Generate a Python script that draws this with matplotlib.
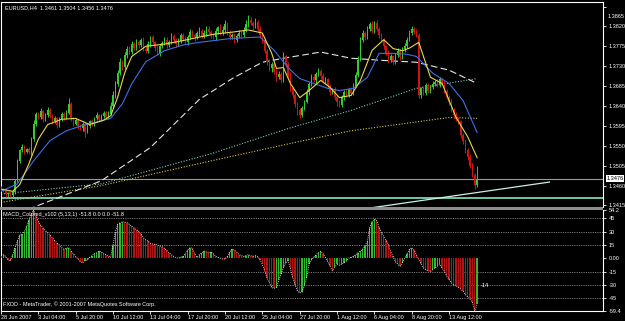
import matplotlib
matplotlib.use("Agg")
import matplotlib.pyplot as plt
from matplotlib.patches import Rectangle
import numpy as np

plt.rcParams['font.family'] = ['Liberation Sans Narrow', 'Liberation Sans', 'DejaVu Sans']

# closes per H4 bar (28 Jun 2007 -> 15 Aug 2007)
closes = [
    1.3452, 1.3448, 1.3440, 1.3444, 1.3438, 1.3446, 1.3470, 1.3515, 1.3540, 1.3548,
    1.3537, 1.3542, 1.3535, 1.3565, 1.3600, 1.3622, 1.3615, 1.3628, 1.3610, 1.3620,
    1.3632, 1.3618, 1.3605, 1.3612, 1.3598, 1.3610, 1.3622, 1.3615, 1.3625, 1.3645,
    1.3612, 1.3600, 1.3608, 1.3595, 1.3590, 1.3600, 1.3582, 1.3595, 1.3605, 1.3600,
    1.3612, 1.3620, 1.3610, 1.3618, 1.3625, 1.3615, 1.3622, 1.3640, 1.3665, 1.3690,
    1.3715, 1.3740, 1.3728, 1.3755, 1.3770, 1.3762, 1.3780, 1.3772, 1.3785, 1.3778,
    1.3790, 1.3770, 1.3765, 1.3780, 1.3795, 1.3785, 1.3772, 1.3760, 1.3775, 1.3782,
    1.3790, 1.3778, 1.3785, 1.3798, 1.3790, 1.3780, 1.3788, 1.3800, 1.3792, 1.3785,
    1.3795, 1.3808, 1.3800, 1.3795, 1.3805, 1.3810, 1.3798, 1.3805, 1.3815, 1.3808,
    1.3800, 1.3795, 1.3810, 1.3818, 1.3805, 1.3812, 1.3825, 1.3808, 1.3795, 1.3800,
    1.3790, 1.3798, 1.3805, 1.3800, 1.3812, 1.3825, 1.3835, 1.3828, 1.3820, 1.3830,
    1.3815, 1.3800, 1.3790, 1.3765, 1.3740, 1.3725, 1.3735, 1.3718, 1.3705, 1.3712,
    1.3698, 1.3752, 1.3735, 1.3710, 1.3680, 1.3665, 1.3645, 1.3630, 1.3620, 1.3635,
    1.3650, 1.3672, 1.3690, 1.3705, 1.3698, 1.3712, 1.3720, 1.3708, 1.3695, 1.3700,
    1.3685, 1.3672, 1.3678, 1.3660, 1.3648, 1.3642, 1.3660, 1.3672, 1.3665, 1.3678,
    1.3670, 1.3685, 1.3710, 1.3745, 1.3790, 1.3805, 1.3795, 1.3815, 1.3825, 1.3810,
    1.3828, 1.3815, 1.3800, 1.3790, 1.3775, 1.3760, 1.3745, 1.3752, 1.3740, 1.3755,
    1.3765, 1.3750, 1.3768, 1.3775, 1.3790, 1.3805, 1.3815, 1.3808, 1.3800, 1.3665,
    1.3680, 1.3670, 1.3688, 1.3675, 1.3682, 1.3690, 1.3695, 1.3688, 1.3700, 1.3692,
    1.3675, 1.3660, 1.3650, 1.3632, 1.3620, 1.3610, 1.3605, 1.3575, 1.3560, 1.3540,
    1.3525, 1.3505, 1.3485, 1.3461, 1.3476,
]
first_open = 1.3455

# wick lengths in pips above / below the body
up_wick = [
    3, 2, 4, 2, 3, 5, 4, 6, 3, 5, 4, 3, 5, 6, 8, 4, 5, 7, 3, 4,
    6, 4, 3, 5, 4, 6, 5, 4, 7, 12, 5, 4, 6, 3, 5, 4, 3, 6, 4, 5,
    4, 6, 3, 5, 4, 3, 6, 8, 10, 7, 6, 8, 5, 7, 6, 5, 8, 4, 6, 5,
    4, 7, 5, 6, 4, 5, 3, 6, 5, 4, 6, 5, 4, 7, 5, 3, 6, 4, 5, 6,
    5, 7, 4, 6, 5, 8, 4, 6, 5, 7, 4, 5, 6, 4, 7, 8, 10, 5, 4, 6,
    5, 4, 6, 5, 7, 9, 10, 6, 5, 8, 4, 5, 6, 4, 5, 7, 4, 6, 5, 8,
    6, 10, 4, 5, 6, 4, 5, 3, 6, 5, 4, 6, 5, 7, 8, 6, 5, 4, 6, 5,
    4, 5, 3, 6, 4, 5, 6, 4, 5, 3, 5, 6, 8, 7, 6, 8, 5, 7, 6, 8,
    5, 6, 4, 5, 3, 4, 6, 5, 4, 5, 6, 4, 5, 7, 6, 8, 5, 4, 6, 5,
    4, 6, 5, 4, 5, 6, 4, 5, 6, 4, 5, 4, 6, 5, 4, 6, 5, 4, 3, 5,
    4, 6, 5, 3, 28,
]
dn_wick = [
    4, 3, 5, 6, 4, 3, 5, 2, 4, 3, 5, 4, 3, 5, 4, 6, 4, 5, 6, 3,
    4, 5, 6, 4, 7, 5, 4, 6, 5, 4, 6, 5, 4, 7, 5, 6, 12, 4, 5, 6,
    5, 4, 6, 3, 5, 4, 5, 3, 4, 6, 5, 4, 7, 5, 6, 4, 5, 6, 5, 7,
    5, 6, 4, 5, 6, 4, 7, 5, 6, 4, 5, 6, 4, 5, 7, 6, 4, 5, 6, 4,
    6, 4, 5, 7, 4, 6, 5, 4, 7, 5, 6, 4, 5, 7, 4, 5, 6, 8, 5, 4,
    7, 5, 4, 6, 5, 4, 6, 5, 7, 4, 6, 5, 7, 6, 8, 5, 7, 6, 8, 5,
    6, 4, 7, 5, 6, 7, 8, 10, 6, 4, 5, 4, 6, 5, 4, 6, 5, 7, 4, 6,
    5, 7, 4, 6, 8, 5, 4, 6, 5, 4, 5, 4, 3, 5, 4, 6, 5, 4, 6, 5,
    6, 5, 7, 4, 6, 5, 8, 6, 5, 4, 5, 6, 4, 5, 4, 3, 5, 6, 4, 7,
    6, 5, 4, 6, 5, 4, 5, 6, 4, 5, 6, 5, 7, 5, 6, 4, 6, 7, 5, 6,
    7, 6, 5, 8, 5,
]

# moving averages, read at selected bars
ma_fast_x = [0, 5, 8, 12, 16, 20, 26, 32, 38, 44, 47, 50, 53, 56, 62, 70, 78, 85, 92, 99,
             106, 112, 116, 118, 121, 124, 128, 132, 137, 141, 145, 150, 154, 159, 164,
             168, 172, 175, 179, 184, 189, 195, 200, 204]
ma_fast_y = [1.3452, 1.3447, 1.3462, 1.3510, 1.3565, 1.3598, 1.3610, 1.3612, 1.3598, 1.3608,
             1.3618, 1.3660, 1.3715, 1.3752, 1.3775, 1.3780, 1.3788, 1.3796, 1.3803, 1.3807,
             1.3812, 1.3805, 1.3759, 1.3725, 1.3727, 1.3691, 1.3659, 1.3675, 1.3698, 1.3682,
             1.3659, 1.3664, 1.3698, 1.3766, 1.3790, 1.3770, 1.3765, 1.3771, 1.3784, 1.3705,
             1.3691, 1.3614, 1.3570, 1.3523]
ma_slow_x = [0, 7, 14, 21, 28, 35, 47, 52, 56, 62, 70, 78, 85, 99, 111, 117, 123, 128, 134,
             140, 145, 151, 157, 162, 168, 174, 178, 185, 192, 198, 204]
ma_slow_y = [1.3447, 1.3464, 1.3516, 1.3562, 1.3584, 1.3596, 1.3612, 1.3645, 1.3690, 1.3740,
             1.3765, 1.3778, 1.3784, 1.3793, 1.3796, 1.3766, 1.3727, 1.3702, 1.3691, 1.3680,
             1.3675, 1.3680, 1.3705, 1.3759, 1.3759, 1.3757, 1.3752, 1.3714, 1.3691, 1.3652,
             1.3580]
ma_100_x = [8, 13, 43, 64, 85, 100, 112, 121, 137, 150, 164, 178, 192, 204]
ma_100_y = [1.3395, 1.3409, 1.3471, 1.3546, 1.3655, 1.3705, 1.3739, 1.3748, 1.3762, 1.3748,
            1.3743, 1.3739, 1.3721, 1.3691]
ma_200_x = [0, 43, 90, 123, 150, 178, 204]
ma_200_y = [1.3441, 1.3464, 1.3532, 1.3589, 1.3630, 1.3680, 1.3702]
ma_300_x = [0, 43, 85, 128, 150, 192, 204]
ma_300_y = [1.3422, 1.3460, 1.3510, 1.3560, 1.3584, 1.3614, 1.3612]

trend_x = [155, 235]
trend_y = [1.3407, 1.3468]
level_line = 1.3433
bid = 1.3476

macd = [
    3, 4, 2, -2, -3, 4, 12, 19, 26, 27, 30, 36, 43, 50, 54.2, 48, 41, 37, 34, 31,
    29, 26, 23, 20, 17, 15, 12, 10, 11, 12, 8, 5, 2, -1, -4, -5, -3, -2, 1, 3,
    5, 6, 8, 7, 5, 4, 3, 1, 15, 30, 38, 40, 41, 40.5, 40, 38, 36, 34, 32, 30,
    27, 23, 21, 19, 17, 16, 15.5, 15, 14, 13, 11, 9, 6, 4, 2, 0.5, 0, 1, 2, 5,
    9, 12, 11, 5, 1, 4, 6, 8, 7, 6, 7, 5, 2, 1, 0, -1, -1, 2, 7, 10,
    9, 7, 4, 3, 2, 3, 4, 3, 2, 3, 2, -2, -7, -14, -22, -28, -33, -34, -33, -25,
    -18, -11, -5, -3, -12, -22, -30, -37, -39, -38, -30, -22, -7, -2, 1, 4, 6, 8, 5, 1,
    -4, -9, -14, -10, -7, -8, -7, -5, -3, 0, 1, 2, 4, 6, 8, 10, 14, 19, 34, 41,
    44, 42, 35, 29, 24, 20, 15, 7, 2, -4, -7, -9, -5, 0, 5, 10, 12, 9, 4, -1,
    -6, -11, -13, -14, -15, -13, -11, -9, -7, -11, -15, -20, -24, -28, -30, -31, -33, -35, -37, -41,
    -44, -46, -50, -59.4, -51.8,
]

tick_bars = [0, 16, 32, 48, 64, 80, 96, 112, 128, 144, 160, 176, 192]
tick_labels = ["28 Jun 2007", "3 Jul 04:00", "5 Jul 20:00", "10 Jul 12:00", "13 Jul 04:00",
               "17 Jul 20:00", "20 Jul 12:00", "25 Jul 04:00", "27 Jul 20:00", "1 Aug 12:00",
               "6 Aug 04:00", "8 Aug 20:00", "13 Aug 12:00"]
price_ticks = [1.3415, 1.3460, 1.3505, 1.3550, 1.3595, 1.3640, 1.3685, 1.3730, 1.3775, 1.3820, 1.3865]
macd_ticks = [-59.4, -45, -30, -15, 0, 15, 30, 45, 54.2]
macd_tick_labels = ["-59.4", "-45", "-30", "-15", "0.00", "15", "30", "45", "54.2"]

W, H = 625, 321
FS = 4.0


def box(l, t, r, b):
    return [l / W, 1 - b / H, (r - l) / W, (b - t) / H]


fig = plt.figure(figsize=(W / 100, H / 100), dpi=100, facecolor='black')
ax = fig.add_axes(box(1, 2, 603, 207))
ax2 = fig.add_axes(box(1, 210, 603, 311), sharex=ax)

n = len(closes)
idx = np.arange(n)
c = np.array(closes)
o = np.concatenate([[first_open], c[:-1]])
hi = np.maximum(o, c) + np.array(up_wick) * 0.0001
lo = np.minimum(o, c) - np.array(dn_wick) * 0.0001

for a in (ax, ax2):
    a.set_facecolor('black')
    for s in a.spines.values():
        s.set_color('white')
        s.set_linewidth(0.8)
ax.spines['bottom'].set_visible(False)
ax2.spines['top'].set_visible(False)

# horizontal lines
ax.axhline(bid, color='#9a9a9a', lw=0.8, zorder=1)
ax.axhline(level_line, color='#6fc7a8', lw=1.4, zorder=1)

# long moving averages
ax.plot(ma_300_x, ma_300_y, color='#d8c850', lw=0.8, ls=(0, (1, 1.5)), zorder=2)
ax.plot(ma_200_x, ma_200_y, color='#7fd0c0', lw=0.8, ls=(0, (1, 1.5)), zorder=2)
ax.plot(ma_100_x, ma_100_y, color='#e6e6e6', lw=0.8, ls=(0, (6, 3)), zorder=2)
ax.plot(trend_x, trend_y, color='#c8f0e8', lw=0.9, zorder=2)

# candles
bull = c > o
col = np.where(bull, '#33cc33', '#d01515')
ax.vlines(idx, lo, hi, colors=col, lw=0.7, zorder=3)
body = np.maximum(np.abs(c - o), 0.00008)
ax.bar(idx, body, bottom=np.minimum(o, c), width=0.6, color=col, linewidth=0, zorder=4)

ax.plot(ma_slow_x, ma_slow_y, color='#3f6fe8', lw=0.8, zorder=5)
ax.plot(ma_fast_x, ma_fast_y, color='#e8d84a', lw=0.8, zorder=6)

x_left = (1 - 0.6) / 2.3355
x_right = (603 - 0.6) / 2.3355
ax.set_xlim(x_left, x_right)
ax.set_ylim(1.3640 - 100.5 / 4400, 1.3640 + 103.5 / 4400)

ax.yaxis.tick_right()
ax.set_yticks(price_ticks)
ax.set_yticklabels(["%.4f" % p for p in price_ticks[:-1]] + [""])
ax.tick_params(axis='y', colors='white', labelsize=FS, length=2.5, width=0.6, pad=1.5)
ax.tick_params(axis='x', bottom=False, labelbottom=False)
ax.annotate("%.4f" % price_ticks[-1], xy=(1, 1.3640 + (105.5 - 16) / 4400),
            xycoords=('axes fraction', 'data'), xytext=(3, 0), textcoords='offset points',
            va='center', ha='left', fontsize=FS, color='white')
ax.annotate("%.4f" % bid, xy=(1, bid), xycoords=('axes fraction', 'data'),
            xytext=(2.5, 0), textcoords='offset points', va='center', ha='left',
            fontsize=FS, color='black',
            bbox=dict(boxstyle='square,pad=0.15', fc='white', ec='none'))

ax.text(0.006, 0.985, "EURUSD,H4  1.3461 1.3504 1.3456 1.3476", transform=ax.transAxes,
        color='white', fontsize=FS, va='top', ha='left')

# MACD window
m = np.array(macd)
rising = np.concatenate([[True], m[1:] > m[:-1]])
mcol = np.where(rising, '#2db82d', '#b01515')
ax2.bar(idx, m, width=0.55, color=mcol, linewidth=0, zorder=3)
ax2.plot(idx, m, color='white', lw=0.6, ls=(0, (1, 1.5)), zorder=4)
for v in (-45, -30, -15, 15, 30, 45):
    ax2.axhline(v, color='#bdbdbd', lw=0.5, ls=(0, (1.5, 1.8)), zorder=1)
ax2.set_ylim(-59.4, 54.2)
ax2.yaxis.tick_right()
ax2.set_yticks(macd_ticks)
ax2.set_yticklabels(macd_tick_labels)
ax2.tick_params(axis='y', colors='white', labelsize=FS, length=2.5, width=0.6, pad=1.5)
ax2.set_xticks(tick_bars)
ax2.set_xticklabels(tick_labels, ha='left')
ax2.tick_params(axis='x', colors='white', labelsize=FS, length=2, width=0.6, pad=1)
ax2.text(0.004, 0.985, "MACD_Colored_v102 (5,13,1) -51.8 0.0 0.0 -51.8", transform=ax2.transAxes,
         color='white', fontsize=FS, va='top', ha='left')
ax2.text(0.004, 0.07, "FXDD - MetaTrader, \u00a9 2001-2007 MetaQuotes Software Corp.",
         transform=ax2.transAxes, color='white', fontsize=FS, va='center', ha='left')
ax2.text(205.5, -31, "-14", color='white', fontsize=FS, va='center', ha='left')

# window separator
fig.patches.append(Rectangle((0, 1 - 210 / H), 603 / W, 3 / H, transform=fig.transFigure,
                             facecolor='#8c8c8c', edgecolor='none'))

fig.savefig("out.png", dpi=100, facecolor='black')
